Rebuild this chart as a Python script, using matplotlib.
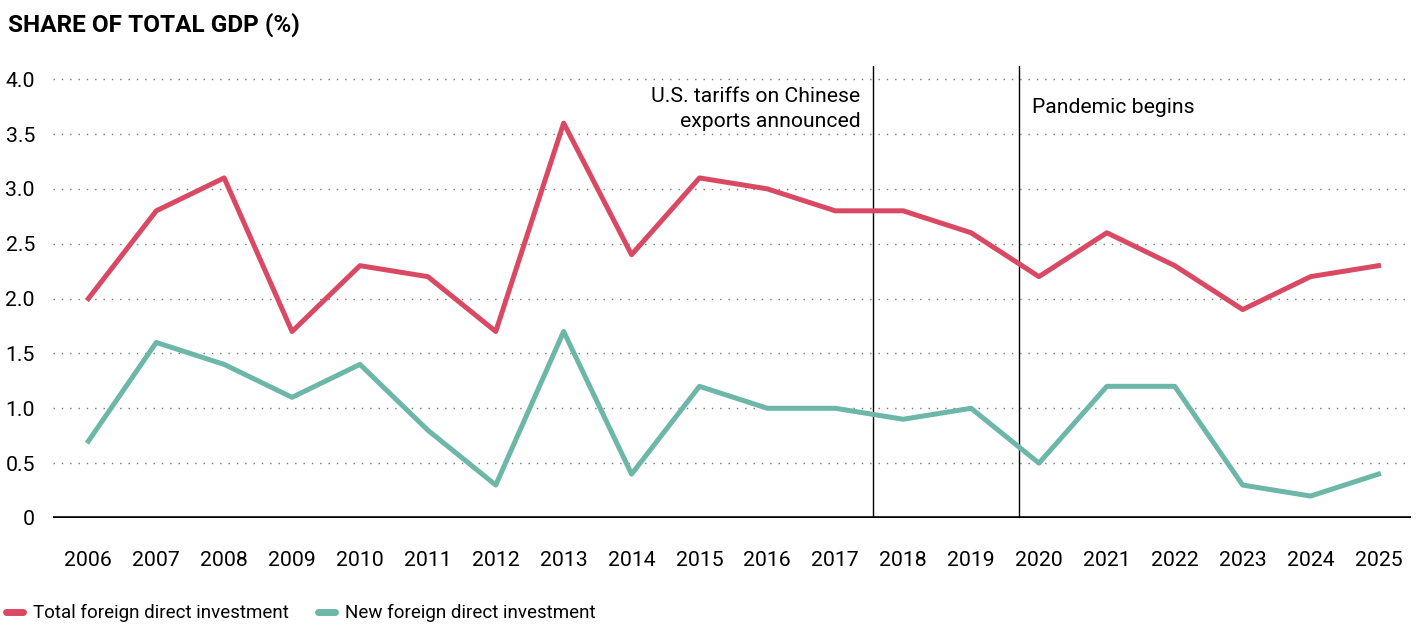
import numpy as np
import matplotlib.pyplot as plt
from matplotlib.ticker import FixedLocator

plt.rcParams['font.family'] = ['Roboto', 'DejaVu Sans']

years = list(range(2006, 2026))
total_fdi = [2.0, 2.8, 3.1, 1.7, 2.3, 2.2, 1.7, 3.6, 2.4, 3.1,
             3.0, 2.8, 2.8, 2.6, 2.2, 2.6, 2.3, 1.9, 2.2, 2.3]
new_fdi = [0.7, 1.6, 1.4, 1.1, 1.4, 0.8, 0.3, 1.7, 0.4, 1.2,
           1.0, 1.0, 0.9, 1.0, 0.5, 1.2, 1.2, 0.3, 0.2, 0.4]
y_ticks = [0, 0.5, 1.0, 1.5, 2.0, 2.5, 3.0, 3.5, 4.0]
y_labels = ['0', '0.5', '1.0', '1.5', '2.0', '2.5', '3.0', '3.5', '4.0']

red = '#da4964'
teal = '#6cb7a7'

fig = plt.figure(figsize=(14.22, 6.24), dpi=100)
ax = fig.add_axes([0.0373, 0.1699, 0.9550, 0.7243])

ax.plot(years, total_fdi, color=red, lw=3.6, solid_joinstyle='round',
        label='Total foreign direct investment', zorder=3)
ax.plot(years, new_fdi, color=teal, lw=3.6, solid_joinstyle='round',
        label='New foreign direct investment', zorder=3)

ax.set_xlim(2005.48, 2025.48)
ax.set_ylim(0, 4.12)

# event markers
ax.axvline(2017.55, color='black', lw=1.0, zorder=2)
ax.axvline(2019.71, color='black', lw=1.0, zorder=2)
ax.text(2017.37, 3.93, 'U.S. tariffs on Chinese\nexports announced', ha='right', va='top',
        fontsize=15.2, linespacing=1.4)
ax.text(2019.90, 3.74, 'Pandemic begins', ha='left', va='center', fontsize=15.2)

ax.yaxis.set_major_locator(FixedLocator(y_ticks))
ax.set_yticklabels(y_labels)
ax.set_xticks(years)
ax.set_xticklabels([str(y) for y in years])
ax.tick_params(axis='both', length=0, labelsize=15.3)
ax.tick_params(axis='x', pad=24)
ax.tick_params(axis='y', pad=13)

for v in y_ticks[1:]:
    ax.axhline(v, color='#777777', lw=1.0, ls=(0, (1, 5)), zorder=1)
ax.axhline(0, color='black', lw=2.6, zorder=4)

for s in ax.spines.values():
    s.set_visible(False)

fig.text(0.0056, 0.961, 'SHARE OF TOTAL GDP (%)', fontsize=17.6, fontweight='bold',
         va='center', ha='left')

leg = fig.legend(loc='center left', bbox_to_anchor=(0.004, 0.017), ncol=2, frameon=False,
                 fontsize=13.5, handlelength=0.9, handletextpad=0.55, columnspacing=1.55,
                 borderaxespad=0, borderpad=0)
for h in leg.get_lines():
    h.set_linewidth(5)
    h.set_solid_capstyle('round')

fig.savefig('out.png', dpi=100)
